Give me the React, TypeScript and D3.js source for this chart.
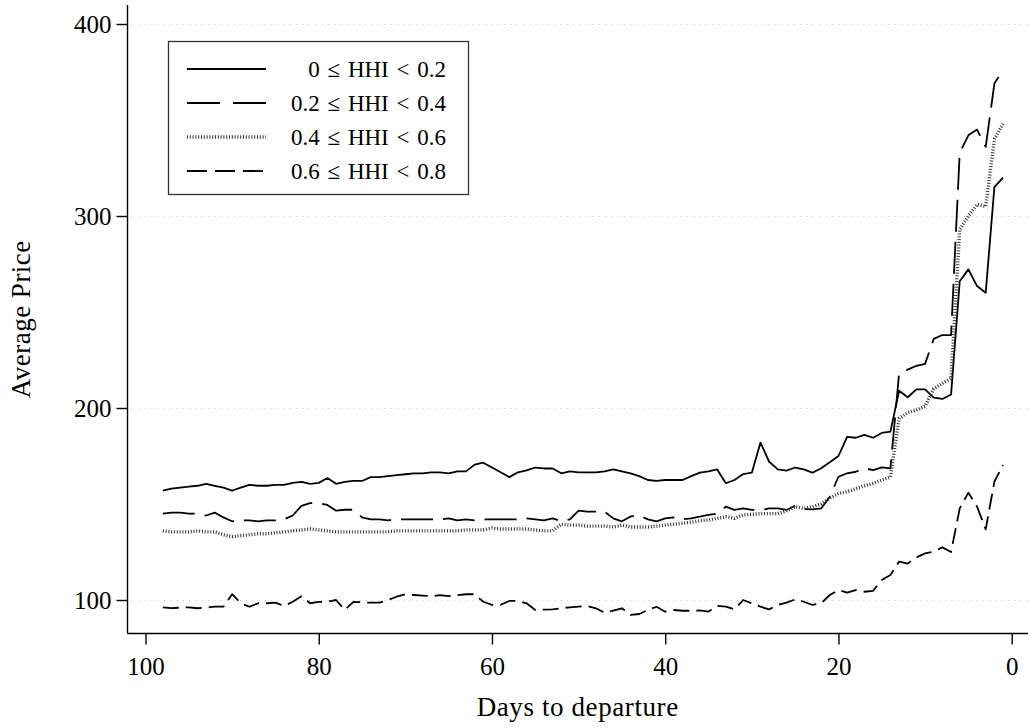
import React, { useEffect, useRef } from "react";
import * as d3 from "d3";

// days to departure, left (98) to right (1)
const days = d3.range(98, 0, -1);

const hhi00 = [
  157, 158, 158.5, 159, 159.5, 160.5, 159.5, 158.5, 157, 158.5, 160, 159.5, 159.5, 160, 160, 161, 161.5, 160.5, 161, 163.5,
  160.5, 161.5, 162, 162, 164, 164, 164.5, 165, 165.5, 166, 166, 166.5, 166.5,
  166, 167, 167, 170.5, 171.5, 169, 166.5, 164, 166.5, 167.5, 169, 168.5, 168.5, 166, 167, 166.5, 166.5, 166.5, 167, 168,
  167, 166, 164.5, 162.5, 162, 162.5, 162.5, 162.5, 164.5,
  166.3, 167, 168, 160.8, 162.5, 165.6, 166.3, 182, 172, 168, 167.4, 169, 168, 166.3, 168.6, 171.7, 175, 185, 184.5, 186,
  184.5, 187, 187.7, 209, 205.6, 209.7, 209.7, 205.4, 204.7, 207, 266, 272.2, 263.5, 260, 315, 320,
];

const hhi02 = [
  145, 145.5, 145.5, 145, 145, 144, 145.5, 143, 141, 141.5, 141.5, 141, 141.5, 141.5, 142, 144, 149, 150.5, 150.5, 149.5,
  146.5, 147, 147, 143, 142, 142, 141.5, 142, 142, 142, 142, 142, 142,
  142.5, 141.5, 142, 141.5, 142, 142, 142, 142, 142, 142.5, 142, 141.5, 142.5, 141, 142, 146.5, 146, 146, 146, 142.5,
  141, 143.5, 144, 142, 141, 142.5, 143, 142, 142.5,
  143.4, 144.3, 145, 148.6, 146.9, 147.7, 146.9, 146.9, 147.7, 147.7, 146.9, 149, 147.4, 147.2, 147.7, 153.8, 164.2, 166,
  166.8, 168.6, 167.7, 169.1, 168.6, 218, 220, 222, 223, 236, 238, 238, 333, 342, 345, 336, 369, 376,
];

const hhi04 = [
  136, 135.5, 135.5, 135.5, 136, 135.5, 135.5, 134, 133, 133.5, 134, 134.5, 134.5, 135, 135.5, 136, 136.5, 137, 136.5, 136,
  135.5, 135.5, 135.5, 135.5, 135.5, 135.5, 135.5, 136, 136, 136, 136, 136, 136,
  136, 136, 136.5, 136.5, 136.5, 137.5, 137, 137, 137, 137, 136.5, 136, 136, 139.5, 139, 139, 138.5, 138.5, 138.5, 138,
  139, 138, 138, 138, 138.5, 139, 139.5, 140, 140.5,
  141.3, 141.7, 142.5, 143.4, 142.5, 144.3, 144.6, 145, 145, 145, 146.5, 148.6, 147.7, 148.6, 150, 153, 155.5, 156.4,
  158, 159.5, 160.8, 162.5, 164, 194.6, 197.6, 199, 201, 210, 212.8, 215.5, 293, 300, 306, 305, 340, 348,
];

const hhi06 = [
  96.2, 95.8, 96, 96.2, 95.7, 96, 96.5, 96.5, 103, 98.3, 96.5, 98.3, 98.3, 98.6, 96.9, 99.1, 102, 98.3, 99, 99.1,
  100, 94.8, 99, 98.8, 98.6, 98.6, 100, 101.7, 103, 102.6, 102.3, 102, 102.5,
  102, 102.5, 103, 103, 99.1, 97.5, 97.5, 99.5, 99.5, 98.3, 94.8, 95, 95.1, 95.7, 96.2, 96.5, 96.9, 95.7, 93.4, 94.5,
  95.7, 92.2, 92.7, 94.8, 96.5, 93.9, 94.8, 94.4, 94.4,
  94.6, 94, 97, 96.5, 95.1, 100, 98.3, 96.5, 95.1, 97.4, 98.6, 100.3, 99.1, 97.4, 98.3, 102.6, 105.2, 103.8, 105.2,
  104.3, 104.8, 110.4, 113, 120, 119, 122.2, 124.3, 125.2, 127.4, 125, 147.7, 155.9, 148.6, 136.8, 161.6, 170.3,
];

const labels = ["0 ≤ HHI < 0.2", "0.2 ≤ HHI < 0.4", "0.4 ≤ HHI < 0.6", "0.6 ≤ HHI < 0.8"];
const xTicks = [100, 80, 60, 40, 20, 0];
const yTicks = [100, 200, 300, 400];

const FONT = "'Liberation Serif', 'Times New Roman', serif";

const App = () => {
  const svgRef = useRef<SVGSVGElement>(null);

  useEffect(() => {
    document.body.style.margin = "0";

    const width = 1028;
    const height = 728;
    const left = 127.5;
    const bottom = 633.5;

    const svg = d3.select(svgRef.current);
    svg.selectAll("*").remove();
    svg.attr("width", width).attr("height", height).style("display", "block");

    svg.append("rect").attr("width", width).attr("height", height).attr("fill", "#fff");

    const x = d3.scaleLinear().domain([100, 0]).range([145.5, 1011.7]);
    const y = d3.scaleLinear().domain([100, 400]).range([600, 24]);

    // grid
    svg
      .append("g")
      .selectAll("line")
      .data(yTicks)
      .join("line")
      .attr("x1", left + 5)
      .attr("x2", width)
      .attr("y1", (d) => Math.round(y(d)) + 0.5)
      .attr("y2", (d) => Math.round(y(d)) + 0.5)
      .attr("stroke", "#c4c4c4")
      .attr("stroke-width", 1)
      .attr("stroke-dasharray", "1 5.3");

    // axes
    svg
      .append("line")
      .attr("x1", left)
      .attr("x2", left)
      .attr("y1", 5)
      .attr("y2", bottom)
      .attr("stroke", "#000")
      .attr("stroke-width", 1.4);
    svg
      .append("line")
      .attr("x1", left)
      .attr("x2", width)
      .attr("y1", bottom)
      .attr("y2", bottom)
      .attr("stroke", "#000")
      .attr("stroke-width", 1.4);

    const yAxis = svg
      .append("g")
      .attr("transform", `translate(${left},0)`)
      .call(d3.axisLeft(y).tickValues(yTicks).tickSize(11).tickPadding(5).tickFormat(d3.format("d")));
    yAxis.select(".domain").remove();

    const xAxis = svg
      .append("g")
      .attr("transform", `translate(0,${bottom})`)
      .call(d3.axisBottom(x).tickValues(xTicks).tickSize(11).tickPadding(13).tickFormat(d3.format("d")));
    xAxis.select(".domain").remove();

    svg
      .selectAll(".tick line")
      .attr("stroke", "#000")
      .attr("stroke-width", 1.4);
    svg
      .selectAll(".tick text")
      .attr("font-family", FONT)
      .attr("font-size", 25)
      .attr("fill", "#000");

    svg
      .append("text")
      .attr("x", (left + width) / 2)
      .attr("y", 716)
      .attr("text-anchor", "middle")
      .attr("font-family", FONT)
      .attr("font-size", 27)
      .attr("letter-spacing", 0.6)
      .text("Days to departure");

    svg
      .append("text")
      .attr("transform", `translate(30,${(5 + bottom) / 2}) rotate(-90)`)
      .attr("text-anchor", "middle")
      .attr("font-family", FONT)
      .attr("font-size", 27)
      .attr("letter-spacing", 0.5)
      .text("Average Price");

    // series
    const series = [
      { values: hhi00, dash: null, width: 1.8, color: "#000" },
      { values: hhi02, dash: "32 10", width: 1.8, color: "#000" },
      { values: hhi04, dash: "1 1.8", width: 3.4, color: "#333" },
      { values: hhi06, dash: "16 7", width: 1.8, color: "#000" },
    ];

    const line = d3
      .line<number>()
      .x((d, i) => x(days[i]))
      .y((d) => y(d));

    series.forEach((s) => {
      svg
        .append("path")
        .datum(s.values)
        .attr("d", line)
        .attr("fill", "none")
        .attr("stroke", s.color)
        .attr("stroke-width", s.width)
        .attr("stroke-linejoin", "round")
        .attr("stroke-dasharray", s.dash);
    });

    // legend
    const lg = svg.append("g");
    lg.append("rect")
      .attr("x", 168.5)
      .attr("y", 41.5)
      .attr("width", 300)
      .attr("height", 153)
      .attr("fill", "#fff")
      .attr("stroke", "#333")
      .attr("stroke-width", 1.3);

    const rowY = [69, 103, 137, 171];
    series.forEach((s, i) => {
      lg.append("line")
        .attr("x1", 187)
        .attr("x2", 266)
        .attr("y1", rowY[i])
        .attr("y2", rowY[i])
        .attr("stroke", s.color)
        .attr("stroke-width", s.width)
        .attr("stroke-dasharray", i === 1 ? "33 13" : i === 3 ? "20 8" : s.dash);
      lg.append("text")
        .attr("x", 446)
        .attr("y", rowY[i])
        .attr("dy", "0.35em")
        .attr("text-anchor", "end")
        .attr("font-family", FONT)
        .attr("font-size", 23)
        .attr("word-spacing", 2)
        .text(labels[i]);
    });
  }, []);

  return <svg ref={svgRef}></svg>;
};

export default App;
